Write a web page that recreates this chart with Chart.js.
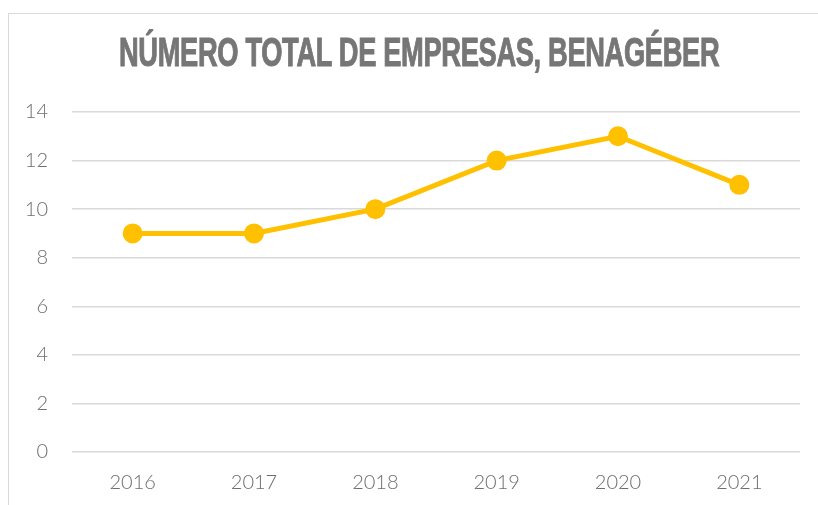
<!DOCTYPE html>
<html>
<head>
<meta charset="utf-8">
<script src="https://cdn.jsdelivr.net/npm/chart.js@4/dist/chart.umd.min.js"></script>
<style>
  html, body { margin: 0; padding: 0; background: #fff; overflow: hidden; }
  #wrap { position: relative; width: 818px; height: 505px; }
  #frame { position: absolute; left: 8px; top: 13px; width: 830px; height: 520px;
           border: 1.5px solid #d9d9d9; box-sizing: border-box; }
  #c { position: absolute; left: 0; top: 0; }
  #title { position: absolute; left: 0; top: 32px; white-space: nowrap;
           font-family: "Liberation Sans Narrow", "Liberation Sans", sans-serif;
           font-weight: bold; font-size: 40px; color: #767676; line-height: 1;
           -webkit-text-stroke: 1px #767676; letter-spacing: -0.5px;
           transform-origin: 0 0; }
</style>
</head>
<body>
<div id="wrap">
  <div id="frame"></div>
  <canvas id="c" width="818" height="505"></canvas>
  <span id="title">NÚMERO TOTAL DE EMPRESAS, BENAGÉBER</span>
</div>
<script>
const years = ["2016", "2017", "2018", "2019", "2020", "2021"];
const empresas = [9, 9, 10, 12, 13, 11];
const yTicks = [0, 2, 4, 6, 8, 10, 12, 14];

// fit condensed title into its width
(function () {
  const t = document.getElementById('title');
  const w = t.offsetWidth;
  const target = 600, center = 418.5;
  const s = target / w;
  t.style.left = (center - target / 2) + 'px';
  t.style.transform = 'scaleX(' + s + ')';
})();

const tickFont = { family: 'Lato, "Noto Sans", sans-serif', size: 20, weight: '300' };

new Chart(document.getElementById('c'), {
  type: 'line',
  data: {
    labels: years,
    datasets: [{
      data: empresas,
      borderColor: '#FFC000',
      backgroundColor: '#FFC000',
      borderWidth: 5,
      pointRadius: 7.5,
      pointHoverRadius: 7.5,
      pointBackgroundColor: '#FFC000',
      pointBorderColor: '#FFC000',
      tension: 0
    }]
  },
  options: {
    responsive: false,
    animation: false,
    layout: { padding: { left: 0, right: 18, top: 112, bottom: 0 } },
    plugins: { legend: { display: false }, tooltip: { enabled: false } },
    scales: {
      x: {
        offset: true,
        grid: { display: false },
        border: { display: false },
        afterFit: (axis) => { axis.height = 53; },
        ticks: { color: '#6e6e6e', font: tickFont, padding: 11 }
      },
      y: {
        min: 0, max: 14,
        afterBuildTicks: (axis) => { axis.ticks = yTicks.map(v => ({ value: v })); },
        afterFit: (axis) => { axis.width = 72; },
        grid: { color: '#d9d9d9', lineWidth: 1.5, drawTicks: false },
        border: { display: false },
        ticks: { color: '#6e6e6e', font: tickFont, padding: 24 }
      }
    }
  }
});
</script>
</body>
</html>
